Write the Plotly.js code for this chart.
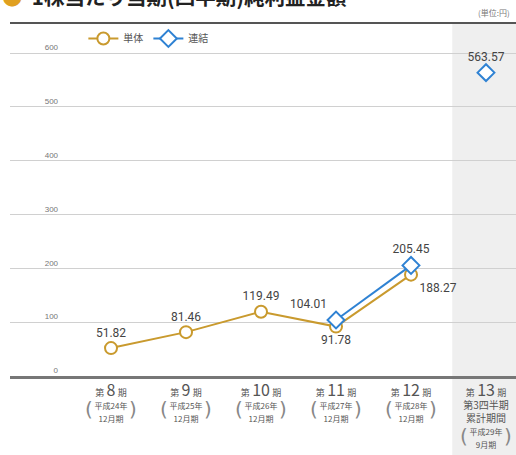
<!DOCTYPE html>
<html><head><meta charset="utf-8">
<script src="https://cdn.plot.ly/plotly-3.0.1.min.js"></script>
<style>html,body{margin:0;padding:0;background:#fff;}#chart{width:516px;height:455px;}</style>
</head><body><div id="chart"></div>
<script>
// ---- data ----
const periodNums = ['8','9','10','11','12','13'];
const periodNotes = ['','','','','','第3四半期<br>累計期間'];
const eraYears = ['平成24年','平成25年','平成26年','平成27年','平成28年','平成29年'];
const closeMonths = ['12月期','12月期','12月期','12月期','12月期','9月期'];
const standalone = [51.82, 81.46, 119.49, 91.78, 188.27];          // 単体
const consolidated = [null, null, null, 104.01, 205.45, 563.57];   // 連結
const yTicks = [0,100,200,300,400,500,600];
const titleText = '1株当たり当期(四半期)純利益金額';
const unitText = '(単位:円)';

const ORANGE = '#c99a2e', BLUE = '#2f82d3';
const idx = periodNums.map((_, i) => i);
const tickText = periodNums.map((n, i) =>
  '<span style="font-size:9px">第</span> <span style="font-size:16px">' + n + '</span> <span style="font-size:9px">期</span>' +
  (periodNotes[i] ? '<br><span style="font-size:10px;color:#555">' + periodNotes[i].replace('<br>', '</span><br><span style="font-size:10px;color:#555">') + '</span>' : '') +
  '<br><span style="font-size:8px">' + eraYears[i] + '</span><br><span style="font-size:8px">' + closeMonths[i] + '</span>');

const fmt = v => v.toFixed(2);
const lastIdx = periodNums.length - 1;
const linkedIdx = idx.filter(i => i < lastIdx && consolidated[i] !== null);

const traces = [
  {
    name: '単体', type: 'scatter', mode: 'lines+markers+text',
    x: standalone.map((_, i) => i), y: standalone,
    text: standalone.map(fmt),
    textposition: ['top center','top center','top center','bottom center','bottom right'],
    textfont: {family: 'Roboto, Arial, sans-serif', size: 12, color: '#444'},
    line: {color: ORANGE, width: 2},
    marker: {symbol: 'circle', size: 12, color: '#fff', line: {color: ORANGE, width: 2}},
    cliponaxis: false
  },
  {
    name: '連結', type: 'scatter', mode: 'lines+markers+text',
    x: linkedIdx, y: linkedIdx.map(i => consolidated[i]),
    text: linkedIdx.map(i => fmt(consolidated[i])),
    textposition: ['top left', 'top center'],
    textfont: {family: 'Roboto, Arial, sans-serif', size: 12, color: '#444'},
    line: {color: BLUE, width: 2},
    marker: {symbol: 'diamond', size: 13, color: '#fff', line: {color: BLUE, width: 2}},
    cliponaxis: false
  },
  {
    name: '連結', showlegend: false, type: 'scatter', mode: 'markers+text',
    x: [lastIdx], y: [consolidated[lastIdx]],
    text: [fmt(consolidated[lastIdx])],
    textposition: 'top center',
    textfont: {family: 'Roboto, Arial, sans-serif', size: 12, color: '#444'},
    marker: {symbol: 'diamond', size: 13, color: '#fff', line: {color: BLUE, width: 2}},
    cliponaxis: false
  }
];

const annotations = [
  {xref: 'paper', yref: 'paper', x: -0.02, y: 1.08, xanchor: 'left', yanchor: 'middle', showarrow: false,
   text: '<span style="color:#e0a020">●</span>  ' + titleText, font: {family: 'Noto Sans CJK JP', size: 20.5, color: '#222', weight: 'bold'}},
  {xref: 'paper', yref: 'paper', x: 0.992, y: 1.033, xanchor: 'right', yanchor: 'middle', showarrow: false,
   text: unitText, font: {family: 'Noto Sans CJK JP', size: 8, color: '#777'}}
];
idx.forEach(i => {
  const yp = periodNotes[i] ? -0.17 : -0.095;
  const off = 0.29;
  annotations.push({xref: 'x', yref: 'paper', x: i - off, y: yp, showarrow: false, text: '(',
    font: {family: 'DejaVu Sans', size: 20, color: '#888'}, xanchor: 'center', yanchor: 'middle'});
  annotations.push({xref: 'x', yref: 'paper', x: i + off, y: yp, showarrow: false, text: ')',
    font: {family: 'DejaVu Sans', size: 20, color: '#888'}, xanchor: 'center', yanchor: 'middle'});
});

const layout = {
  width: 516, height: 455,
  margin: {l: 10, r: 0, t: 24, b: 79},
  paper_bgcolor: '#fff', plot_bgcolor: 'rgba(0,0,0,0)',
  showlegend: true,
  legend: {orientation: 'h', x: 0.145, y: 1.0, xanchor: 'left', yanchor: 'top', bgcolor: 'rgba(0,0,0,0)',
    font: {family: 'Noto Sans CJK JP', size: 10, color: '#555'}, itemwidth: 30},
  xaxis: {
    range: [-1.347, 5.4], tickmode: 'array', tickvals: idx, ticktext: tickText,
    showgrid: false, zeroline: false, showline: true, linecolor: '#777', linewidth: 3,
    ticks: '', tickfont: {family: 'Noto Sans CJK JP', size: 10, color: '#555'}, ticklabelstandoff: 5,
    fixedrange: true
  },
  yaxis: {
    range: [0, 653.9], tickmode: 'array', tickvals: yTicks,
    anchor: 'free', position: 0.095, ticklabelposition: 'outside top',
    showgrid: true, gridcolor: '#d0d0d0', gridwidth: 1, zeroline: false, showline: false, ticks: '',
    tickfont: {family: 'Liberation Sans Narrow, Arial Narrow, sans-serif', size: 8, color: '#777'},
    fixedrange: true
  },
  shapes: [
    {type: 'rect', layer: 'below', xref: 'x', yref: 'paper', x0: 4.55, x1: 5.6, y0: -0.3, y1: 1,
     fillcolor: '#efefef', line: {width: 0}},
    {type: 'line', xref: 'paper', yref: 'paper', x0: 0, x1: 1, y0: 1.003, y1: 1.003,
     line: {color: '#555', width: 2}}
  ],
  annotations: annotations
};

Plotly.newPlot('chart', traces, layout, {displayModeBar: false, staticPlot: true});
</script></body></html>
